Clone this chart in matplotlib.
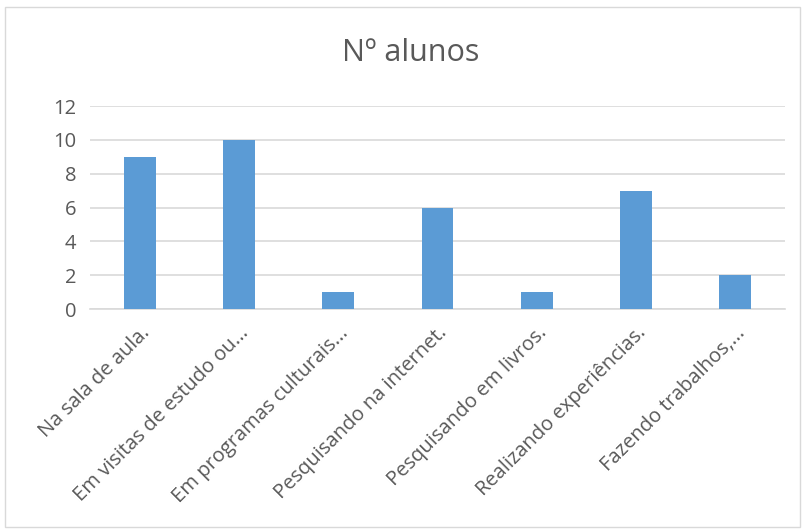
import matplotlib.pyplot as plt
from matplotlib.patches import Rectangle

categories = [
    "Na sala de aula.",
    "Em visitas de estudo ou...",
    "Em programas culturais...",
    "Pesquisando na internet.",
    "Pesquisando em livros.",
    "Realizando experiências.",
    "Fazendo trabalhos,...",
]
alunos = [9, 10, 1, 6, 1, 7, 2]
y_ticks = [0, 2, 4, 6, 8, 10, 12]

text_color = "#595959"
plt.rcParams["font.family"] = ["Open Sans", "DejaVu Sans"]

fig = plt.figure(figsize=(8.06, 5.32), dpi=100)
ax = fig.add_axes([0.1117, 0.419, 0.862, 0.3816])

x = range(len(categories))
ax.bar(x, alunos, width=0.32, color="#5B9BD5", zorder=3)

ax.set_xlim(-0.5, len(categories) - 0.5)
ax.set_ylim(0, 12)
ax.set_yticks(y_ticks)
ax.set_yticklabels([str(v) for v in y_ticks], fontsize=14.5, color=text_color)
ax.set_xticks(list(x))
ax.set_xticklabels(categories, rotation=45, ha="right", rotation_mode="anchor",
                   fontsize=14.5, color=text_color)
ax.tick_params(axis="x", length=0, pad=10)
ax.tick_params(axis="y", length=0, pad=10)

ax.grid(axis="y", color="#D9D9D9", linewidth=1.2, zorder=0)
for side in ["top", "right", "left"]:
    ax.spines[side].set_visible(False)
ax.spines["bottom"].set_color("#D9D9D9")
ax.spines["bottom"].set_linewidth(1.2)

fig.text(0.509, 0.90, "Nº alunos", ha="center", va="center", fontsize=22,
         color=text_color)

# outer chart frame
fig.patches.append(Rectangle((5 / 806, 5 / 532), 795 / 806, 520 / 532,
                             transform=fig.transFigure, fill=False,
                             edgecolor="#D9D9D9", linewidth=1))

fig.savefig("out.png", dpi=100)
